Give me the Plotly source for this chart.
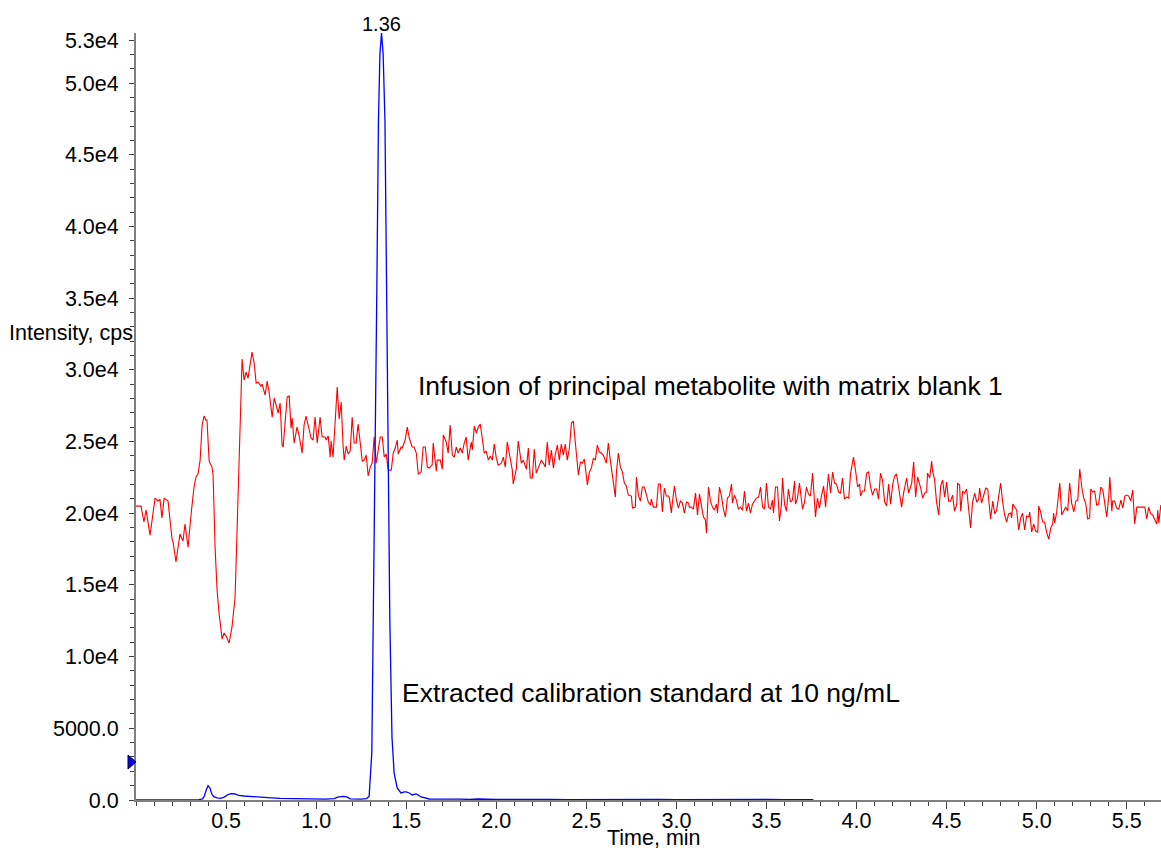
import plotly.graph_objects as go

# ---------------- data ----------------
red_time = [
    0.000, 0.028, 0.044, 0.056, 0.078, 0.106, 0.122, 0.133, 0.144, 0.156, 0.178, 0.200, 0.206, 0.222,
    0.244, 0.261, 0.272, 0.289, 0.306, 0.322, 0.333, 0.344, 0.356, 0.367, 0.378, 0.389, 0.394, 0.406,
    0.422, 0.428, 0.439, 0.450, 0.461, 0.478, 0.489, 0.500, 0.517, 0.533, 0.550, 0.561, 0.572, 0.583,
    0.589, 0.600, 0.611, 0.622, 0.633, 0.644, 0.656, 0.667, 0.678, 0.694, 0.700, 0.717, 0.728, 0.739,
    0.756, 0.767, 0.778, 0.789, 0.800, 0.811, 0.817, 0.828, 0.839, 0.850, 0.861, 0.867, 0.878, 0.894,
    0.906, 0.922, 0.933, 0.944, 0.961, 0.972, 0.983, 0.994, 1.006, 1.022, 1.033, 1.050, 1.056, 1.067,
    1.078, 1.083, 1.094, 1.106, 1.117, 1.128, 1.139, 1.150, 1.156, 1.167, 1.178, 1.189, 1.200, 1.211,
    1.222, 1.233, 1.244, 1.256, 1.267, 1.278, 1.289, 1.300, 1.311, 1.322, 1.333, 1.344, 1.356, 1.367,
    1.378, 1.389, 1.400, 1.417, 1.428, 1.439, 1.450, 1.456, 1.472, 1.478, 1.494, 1.506, 1.517, 1.533,
    1.544, 1.556, 1.567, 1.583, 1.594, 1.606, 1.617, 1.628, 1.644, 1.650, 1.667, 1.672, 1.689, 1.700,
    1.706, 1.722, 1.733, 1.744, 1.756, 1.767, 1.778, 1.789, 1.800, 1.811, 1.822, 1.833, 1.844, 1.861,
    1.867, 1.878, 1.889, 1.900, 1.911, 1.922, 1.933, 1.944, 1.956, 1.967, 1.978, 1.989, 2.000, 2.011,
    2.028, 2.039, 2.050, 2.061, 2.078, 2.089, 2.094, 2.111, 2.122, 2.139, 2.150, 2.167, 2.178, 2.189,
    2.200, 2.211, 2.222, 2.233, 2.250, 2.261, 2.272, 2.283, 2.294, 2.306, 2.317, 2.328, 2.339, 2.350,
    2.361, 2.372, 2.383, 2.394, 2.406, 2.417, 2.428, 2.439, 2.456, 2.467, 2.478, 2.489, 2.506, 2.517,
    2.528, 2.539, 2.550, 2.561, 2.572, 2.583, 2.594, 2.611, 2.622, 2.633, 2.644, 2.661, 2.667, 2.678,
    2.689, 2.700, 2.711, 2.722, 2.733, 2.750, 2.756, 2.772, 2.778, 2.789, 2.800, 2.811, 2.822, 2.833,
    2.844, 2.856, 2.861, 2.872, 2.889, 2.900, 2.911, 2.922, 2.933, 2.944, 2.956, 2.961, 2.972, 2.978,
    2.989, 3.000, 3.011, 3.022, 3.033, 3.044, 3.056, 3.067, 3.072, 3.083, 3.094, 3.106, 3.117, 3.128,
    3.139, 3.150, 3.161, 3.167, 3.178, 3.189, 3.200, 3.211, 3.222, 3.228, 3.239, 3.250, 3.261, 3.272,
    3.283, 3.294, 3.306, 3.311, 3.322, 3.333, 3.344, 3.356, 3.367, 3.378, 3.389, 3.400, 3.411, 3.422,
    3.433, 3.444, 3.456, 3.467, 3.478, 3.489, 3.500, 3.511, 3.522, 3.533, 3.539, 3.550, 3.561, 3.572,
    3.583, 3.589, 3.600, 3.611, 3.622, 3.633, 3.644, 3.656, 3.661, 3.672, 3.683, 3.694, 3.700, 3.711,
    3.722, 3.733, 3.744, 3.756, 3.767, 3.772, 3.783, 3.794, 3.806, 3.817, 3.828, 3.839, 3.844, 3.856,
    3.867, 3.878, 3.889, 3.900, 3.911, 3.922, 3.933, 3.944, 3.956, 3.967, 3.978, 3.983, 3.994, 4.006,
    4.017, 4.022, 4.033, 4.044, 4.056, 4.067, 4.078, 4.089, 4.100, 4.111, 4.122, 4.133, 4.144, 4.156,
    4.167, 4.178, 4.189, 4.200, 4.211, 4.222, 4.233, 4.250, 4.261, 4.278, 4.289, 4.306, 4.317, 4.328,
    4.339, 4.356, 4.367, 4.378, 4.389, 4.394, 4.406, 4.417, 4.422, 4.433, 4.444, 4.456, 4.467, 4.478,
    4.489, 4.500, 4.511, 4.522, 4.533, 4.544, 4.556, 4.561, 4.572, 4.578, 4.589, 4.600, 4.611, 4.622,
    4.633, 4.644, 4.656, 4.667, 4.678, 4.683, 4.694, 4.706, 4.717, 4.728, 4.744, 4.756, 4.767, 4.778,
    4.789, 4.800, 4.811, 4.822, 4.833, 4.844, 4.856, 4.861, 4.867, 4.878, 4.889, 4.900, 4.911, 4.922,
    4.933, 4.944, 4.956, 4.961, 4.972, 4.983, 4.994, 5.006, 5.011, 5.022, 5.033, 5.044, 5.056, 5.067,
    5.078, 5.089, 5.094, 5.100, 5.111, 5.128, 5.139, 5.150, 5.161, 5.172, 5.183, 5.194, 5.206, 5.217,
    5.228, 5.239, 5.250, 5.261, 5.272, 5.283, 5.294, 5.300, 5.311, 5.322, 5.333, 5.344, 5.356, 5.367,
    5.378, 5.389, 5.400, 5.406, 5.417, 5.422, 5.433, 5.444, 5.456, 5.467, 5.478, 5.489, 5.500, 5.511,
    5.522, 5.533, 5.544, 5.556, 5.567, 5.578, 5.589, 5.600, 5.611, 5.622, 5.633, 5.644, 5.656, 5.667,
    5.672, 5.678, 5.689,
]
red_intensity = [
    20500, 20500, 19390, 20220, 18480, 21060, 20850, 20990, 19670, 21060, 20850, 18200, 17990, 16600,
    18550, 18060, 19250, 17640, 19950, 21830, 22530, 22740, 23710, 26150, 26780, 26500, 26500, 23640,
    23220, 22670, 17640, 14650, 13040, 11230, 11650, 11440, 10950, 12070, 14160, 18830, 24620, 29500,
    30760, 29290, 29850, 29430, 30200, 31240, 30480, 29080, 29150, 28870, 29010, 28250, 29220, 28450,
    26710, 28040, 27550, 26990, 27690, 24760, 24620, 26640, 28100, 28180, 25940, 26640, 24900, 26010,
    25390, 24200, 26150, 26780, 25940, 25250, 25110, 26710, 24900, 26710, 25320, 25320, 25110, 25390,
    23920, 25040, 23920, 26500, 28800, 26570, 27760, 24620, 23710, 24690, 24130, 24340, 26710, 24900,
    24900, 26220, 24900, 23640, 23710, 24060, 22600, 23220, 23500, 25320, 23500, 24340, 25320, 25320,
    23920, 24130, 23010, 23010, 24200, 24550, 25110, 24130, 24620, 24550, 25110, 26010, 25250, 24620,
    24620, 24200, 22740, 22880, 24620, 24620, 23220, 23150, 23360, 24900, 22940, 23710, 23710, 23080,
    25460, 24970, 24200, 26150, 24060, 23920, 24620, 24200, 24550, 24200, 24900, 25320, 23710, 24970,
    24410, 26080, 25600, 26010, 26220, 25250, 24200, 24340, 23710, 23990, 23710, 24830, 23850, 23360,
    23500, 23920, 23220, 24970, 23920, 23010, 22040, 23080, 25040, 23500, 23710, 23080, 24550, 22460,
    22460, 24480, 22800, 23220, 23710, 23500, 23220, 24970, 23360, 24410, 23150, 24130, 24760, 23710,
    24830, 24060, 24830, 23710, 24550, 26290, 26430, 24900, 22670, 23570, 23500, 23780, 21970, 22880,
    23150, 23850, 23710, 24760, 24270, 24200, 24060, 23500, 24900, 23710, 22530, 21130, 22880, 24200,
    23220, 22880, 22110, 21900, 21270, 21200, 20360, 20430, 22530, 21270, 20850, 21830, 21830, 21340,
    20780, 20570, 20990, 20430, 20430, 22040, 22040, 20090, 21760, 21200, 21200, 21060, 20020, 20780,
    21900, 20920, 20360, 20850, 20710, 20020, 20780, 20710, 20430, 20430, 20290, 21410, 19880, 21340,
    20570, 19740, 19530, 18620, 21830, 20850, 20430, 20220, 20640, 20020, 21830, 21200, 20290, 19740,
    21060, 21200, 22040, 20710, 21270, 20920, 20290, 20430, 20220, 21550, 20150, 20710, 20020, 20640,
    20850, 21060, 21130, 21830, 20430, 20290, 22110, 20430, 20290, 20920, 20020, 21830, 21830, 19460,
    20640, 22460, 20640, 20150, 21690, 20780, 20920, 22250, 20640, 21060, 22110, 20780, 20290, 20780,
    21830, 21340, 21200, 22800, 20640, 19740, 21060, 20360, 21270, 21900, 20430, 21830, 22740, 21410,
    22880, 22110, 22040, 21480, 21410, 22460, 20990, 21130, 21060, 22800, 23570, 23920, 23010, 21830,
    22040, 21200, 21550, 21550, 22800, 22880, 21830, 21270, 21690, 21690, 20990, 22800, 22320, 20780,
    20500, 22040, 20640, 21970, 22600, 22740, 21830, 20430, 21410, 22460, 21410, 22110, 23570, 21130,
    22530, 21760, 21060, 21410, 21480, 22800, 22460, 23640, 22940, 22390, 20780, 19880, 21900, 22320,
    21130, 22180, 20850, 20850, 21270, 20150, 20640, 22110, 21970, 20150, 21550, 21410, 21690, 20430,
    18970, 20780, 21410, 20780, 20990, 21760, 20710, 21270, 21760, 21690, 19600, 20850, 19950, 20220,
    21200, 22110, 20780, 19880, 19390, 19950, 20020, 19670, 20640, 20430, 20220, 18830, 19670, 20020,
    18830, 19810, 19740, 20090, 18690, 19250, 18760, 18690, 20500, 20090, 19390, 19390, 18620, 18200,
    18970, 19250, 20020, 19320, 20090, 22110, 19880, 20150, 20430, 20150, 22110, 20710, 20090, 20850,
    20920, 23080, 21830, 21060, 20710, 19600, 19670, 21690, 21480, 21550, 20570, 20640, 21830, 21620,
    20500, 19740, 21200, 22530, 20150, 20850, 20850, 20360, 20290, 20920, 20360, 21200, 21270, 21200,
    20850, 21620, 19250, 20430, 20430, 20430, 20430, 20430, 19600, 20430, 19950, 19880, 19530, 19250,
    20220, 19320, 20570,
]

blue_time = [
    0.000, 0.300, 0.350, 0.370, 0.380, 0.390, 0.400, 0.410, 0.420, 0.430, 0.450, 0.470, 0.490, 0.510,
    0.530, 0.550, 0.570, 0.600, 0.650, 0.700, 0.750, 0.800, 0.850, 0.900, 0.950, 1.000, 1.050, 1.100,
    1.120, 1.150, 1.170, 1.190, 1.220, 1.250, 1.280, 1.294, 1.309, 1.318, 1.328, 1.337, 1.346, 1.354,
    1.363, 1.372, 1.382, 1.391, 1.400, 1.409, 1.421, 1.433, 1.450, 1.471, 1.490, 1.500, 1.517, 1.533,
    1.556, 1.583, 1.628, 1.700, 1.750, 1.800, 1.850, 1.900, 2.000, 2.100, 2.200, 2.300, 2.400, 2.500,
    2.600, 2.700, 2.800, 2.900, 3.000, 3.100, 3.200, 3.300, 3.400, 3.500, 3.600, 3.700, 3.760,
]
blue_intensity = [
    0, 0, 30, 80, 300, 700, 1000, 850, 450, 250, 150, 120, 200, 380,
    450, 420, 330, 280, 220, 200, 150, 120, 100, 80, 70, 60, 60, 100,
    200, 250, 220, 80, 50, 60, 100, 250, 3280, 12550, 24200, 35780, 47420, 52000,
    53500, 52000, 47420, 35780, 24200, 12550, 4390, 1880, 840, 490, 560, 560, 490, 350,
    420, 210, 70, 80, 50, 60, 40, 70, 40, 60, 30, 50, 30, 40,
    30, 50, 30, 40, 30, 40, 30, 40, 30, 40, 30, 40, 30,
]

peak_time = 1.363
peak_label = "1.36"
peak_height = 53500
marker_level = 2650

y_tick_values = [0, 5000, 10000, 15000, 20000, 25000, 30000, 35000, 40000, 45000, 50000, 53000]
y_tick_labels = ["0.0", "5000.0", "1.0e4", "1.5e4", "2.0e4", "2.5e4", "3.0e4", "3.5e4",
                 "4.0e4", "4.5e4", "5.0e4", "5.3e4"]
x_tick_values = [0.5, 1.0, 1.5, 2.0, 2.5, 3.0, 3.5, 4.0, 4.5, 5.0, 5.5]
x_tick_labels = ["0.5", "1.0", "1.5", "2.0", "2.5", "3.0", "3.5", "4.0", "4.5", "5.0", "5.5"]

red_label = "Infusion of principal metabolite with matrix blank 1"
blue_label = "Extracted calibration standard at 10 ng/mL"

FONT = "Liberation Sans, Arial, sans-serif"
TICK_SIZE = 21.5
X_MAX = 5.69

fig = go.Figure()
fig.add_trace(go.Scatter(x=red_time, y=red_intensity, mode="lines",
                         line=dict(color="#ff0000", width=1.1), hoverinfo="skip"))
fig.add_trace(go.Scatter(x=blue_time, y=blue_intensity, mode="lines",
                         line=dict(color="#0000ff", width=1.3), hoverinfo="skip"))

# small level marker (blue triangle) just left of the y axis
ym = marker_level / peak_height
half_h = 7 / 767
w = 8 / 1025
fig.add_shape(type="path", xref="paper", yref="paper",
              path=f"M {-w},{ym - half_h} L 0,{ym} L {-w},{ym + half_h} Z",
              fillcolor="#0000ee", line=dict(color="#000040", width=1), layer="above")

fig.add_annotation(x=peak_time, y=peak_height, text=peak_label, showarrow=False,
                   xanchor="center", yanchor="bottom", yshift=-4,
                   font=dict(size=20, color="#000000", family=FONT))
fig.add_annotation(x=1.556, y=28870, text=red_label, showarrow=False,
                   xanchor="left", yanchor="middle",
                   font=dict(size=26.5, color="#000000", family=FONT))
fig.add_annotation(x=1.467, y=7460, text=blue_label, showarrow=False,
                   xanchor="left", yanchor="middle",
                   font=dict(size=26.5, color="#000000", family=FONT))
fig.add_annotation(xref="paper", x=0, y=32570, text="Intensity, cps", showarrow=False,
                   xanchor="right", yanchor="middle", xshift=-1,
                   font=dict(size=TICK_SIZE, color="#000000", family=FONT))
fig.add_annotation(x=2.878, yref="paper", y=0, text="Time, min", showarrow=False,
                   xanchor="center", yanchor="top", yshift=-25, borderpad=0,
                   font=dict(size=TICK_SIZE, color="#000000", family=FONT))

fig.update_layout(
    width=1161, height=850,
    margin=dict(l=136, r=0, t=33, b=50),
    paper_bgcolor="white", plot_bgcolor="white",
    showlegend=False,
    font=dict(family=FONT, size=TICK_SIZE, color="#000000"),
    xaxis=dict(range=[0, X_MAX], showgrid=False, zeroline=False,
               showline=True, linecolor="#808080", linewidth=2,
               tickmode="array", tickvals=x_tick_values, ticktext=x_tick_labels,
               ticks="outside", ticklen=7, tickwidth=1, tickcolor="#404040",
               ticklabelstandoff=-7,
               minor=dict(tickmode="linear", tick0=0, dtick=0.1, ticks="outside",
                          ticklen=4, tickwidth=1, tickcolor="#404040", showgrid=False),
               tickfont=dict(size=TICK_SIZE, color="#000000", family=FONT)),
    yaxis=dict(range=[0, peak_height], showgrid=False, zeroline=False,
               showline=True, linecolor="#808080", linewidth=2,
               tickmode="array", tickvals=y_tick_values, ticktext=y_tick_labels,
               ticks="outside", ticklen=5, tickwidth=1, tickcolor="#404040",
               ticklabelstandoff=6,
               minor=dict(tickmode="linear", tick0=0, dtick=1000, ticks="outside",
                          ticklen=4, tickwidth=1, tickcolor="#404040", showgrid=False),
               tickfont=dict(size=TICK_SIZE, color="#000000", family=FONT)),
)

fig.write_html("out.html", config={"displayModeBar": False})

# remove the browser's default page margin so the figure sits at the window origin
with open("out.html", "r", encoding="utf-8") as fh:
    html = fh.read()
html = html.replace("<body>", '<body style="margin:0;overflow:hidden">', 1)
with open("out.html", "w", encoding="utf-8") as fh:
    fh.write(html)
